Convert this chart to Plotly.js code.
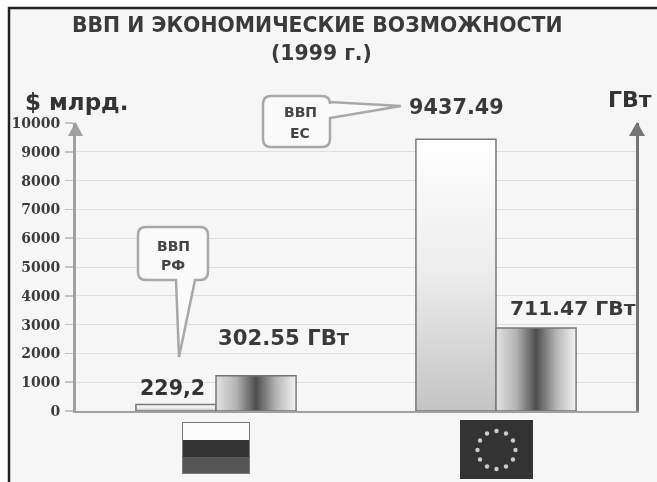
<!DOCTYPE html>
<html><head><meta charset="utf-8">
<script src="https://cdn.plot.ly/plotly-3.0.1.min.js"></script>
<style>html,body{margin:0;padding:0;background:#fff;overflow:hidden}#c{width:657px;height:482px;filter:blur(0.6px)}</style>
</head><body><div id="c"></div>
<script>
const categories = ['РФ', 'ЕС'];
const gdpValues = [229.2, 9437.49];
const powerValues = [302.55, 711.47];
const gdpLabels = ['229,2', '9437.49'];
const powerLabels = ['302.55 ГВт', '711.47 ГВт'];
const tickValues = [0,1000,2000,3000,4000,5000,6000,7000,8000,9000,10000];
const titleLines = ['ВВП И ЭКОНОМИЧЕСКИЕ ВОЗМОЖНОСТИ', '(1999 г.)'];

const W=657,H=482,L=76,R=636,T=123,B=411;
const px=x=>(x-L)/(R-L), py=y=>(B-y)/(B-T);
const pathOf=pts=>pts.map((p,i)=>(i?'L':'M')+px(p[0]).toFixed(5)+','+py(p[1]).toFixed(5)).join(' ')+' Z';
const paper={xref:'paper',yref:'paper'};
function note(text,x,y,size,color){
  return {...paper,x:px(x),y:py(y),text:'<b>'+text+'</b>',showarrow:false,xanchor:'center',yanchor:'middle',
    font:{size:size,family:'"DejaVu Sans"',color:color||'#3a3a3a'}};
}
function rrect(x0,y0,x1,y1,r,tail){
  const P=(x,y)=>px(x).toFixed(5)+','+py(y).toFixed(5);
  let d='M'+P(x0+r,y0)+' L'+P(x1-r,y0)+' Q'+P(x1,y0)+' '+P(x1,y0+r);
  if(tail.side==='right'){tail.pts.forEach(p=>d+=' L'+P(p[0],p[1]));}
  d+=' L'+P(x1,y1-r)+' Q'+P(x1,y1)+' '+P(x1-r,y1);
  if(tail.side==='bottom'){tail.pts.forEach(p=>d+=' L'+P(p[0],p[1]));}
  d+=' L'+P(x0+r,y1)+' Q'+P(x0,y1)+' '+P(x0,y1-r)+' L'+P(x0,y0+r)+' Q'+P(x0,y0)+' '+P(x0+r,y0)+' Z';
  return d;
}
const ruFlag='data:image/svg+xml,'+encodeURIComponent('<svg xmlns="http://www.w3.org/2000/svg" width="68" height="52"><rect width="68" height="18" fill="#fbfbfb"/><rect y="18" width="68" height="17" fill="#333"/><rect y="35" width="68" height="17" fill="#555"/><rect x=".5" y=".5" width="67" height="51" fill="none" stroke="#777"/></svg>');
let stars='';
for(let i=0;i<12;i++){const a=i*Math.PI/6;stars+=`<circle cx="${36.5+19*Math.sin(a)}" cy="${30-19*Math.cos(a)}" r="2.2" fill="#ccc"/>`;}
const euFlag='data:image/svg+xml,'+encodeURIComponent('<svg xmlns="http://www.w3.org/2000/svg" width="73" height="59"><rect width="73" height="59" fill="#333"/>'+stars+'</svg>');

const boxStyle={type:'path',...paper,layer:'above',fillcolor:'#fafafa',line:{color:'#a8a8a8',width:2.5}};
const data=[
 {type:'bar',name:'ВВП',x:categories,y:gdpValues,width:0.286,offset:-0.286,
  marker:{color:'#ddd',line:{color:'#777',width:1.5}},hoverinfo:'skip'},
 {type:'bar',name:'ГВт',x:categories,y:powerValues,yaxis:'y2',width:0.286,offset:0,
  marker:{color:'#999',line:{color:'#777',width:1.5}},hoverinfo:'skip'}
];
const layout={
 width:W,height:H,margin:{l:L,r:W-R,t:T,b:H-B,pad:0},showlegend:false,barmode:'overlay',
 paper_bgcolor:'#fff',plot_bgcolor:'rgba(0,0,0,0)',
 font:{family:'"DejaVu Sans"'},
 xaxis:{type:'category',range:[-0.5,1.5],showticklabels:false,ticks:'',showgrid:false,zeroline:false,
   showline:true,linecolor:'#a0a0a0',linewidth:2},
 yaxis:{range:[0,10000],tickvals:tickValues,ticktext:tickValues.map(String),ticks:'outside',ticklen:8,tickcolor:'#c4c4c4',
   tickwidth:1.5,ticklabelstandoff:2,gridcolor:'#dedede',gridwidth:1,zeroline:false,showline:true,linecolor:'#a0a0a0',linewidth:3,
   tickfont:{family:'"DejaVu Serif"',size:14,color:'#3c3c3c',weight:'bold'}},
 yaxis2:{overlaying:'y',side:'right',range:[0,2470],showgrid:false,zeroline:false,showticklabels:false,ticks:'',
   showline:true,linecolor:'#757575',linewidth:3},
 images:[
  {...paper,source:ruFlag,x:px(182),y:py(422),sizex:px(250)-px(182),sizey:py(422)-py(474),xanchor:'left',yanchor:'top',sizing:'stretch',layer:'above'},
  {...paper,source:euFlag,x:px(460),y:py(420),sizex:px(533)-px(460),sizey:py(420)-py(479),xanchor:'left',yanchor:'top',sizing:'stretch',layer:'above'}
 ],
 shapes:[
  {type:'rect',...paper,layer:'below',x0:px(9),x1:px(670),y0:py(8),y1:py(500),fillcolor:'#f6f6f6',line:{color:'#222',width:2.5}},
  {type:'path',...paper,layer:'above',path:pathOf([[68,136],[75.5,122],[83,136]]),fillcolor:'#a0a0a0',line:{width:0}},
  {type:'path',...paper,layer:'above',path:pathOf([[629,136],[637,122],[645,136]]),fillcolor:'#757575',line:{width:0}},
  {...boxStyle,path:rrect(263,96,330,147,8,{side:'right',pts:[[330,102],[401,106],[330,118]]})},
  {...boxStyle,path:rrect(138,227,208,280,8,{side:'bottom',pts:[[195,280],[179,357],[176,280]]})}
 ],
 annotations:[
  note(titleLines[0],317,25,20.4),
  note(titleLines[1],321,53,20.4),
  note('$ млрд.',76,102,23,'#333'),
  note('ГВт',630,99,22,'#333'),
  note('ВВП',300,112,14,'#444'),
  note('ЕС',300,133,14,'#444'),
  note('ВВП',173,246,14,'#444'),
  note('РФ',173,265,14,'#444'),
  note(gdpLabels[0],172.5,388,20.6,'#333'),
  note(powerLabels[0],284,337,21.2),
  note(gdpLabels[1],456,107,20.8),
  note(powerLabels[1],573,308,20.3)
 ]
};
Plotly.newPlot('c',data,layout,{staticPlot:true,displayModeBar:false}).then(gd=>{
  const svg=gd.querySelector('.main-svg');
  const NS='http://www.w3.org/2000/svg';
  const defs=document.createElementNS(NS,'defs');
  defs.innerHTML=`<linearGradient id="gV" x1="0" y1="0" x2="0" y2="1"><stop offset="0" stop-color="#ffffff"/><stop offset="0.5" stop-color="#ececec"/><stop offset="1" stop-color="#c4c4c4"/></linearGradient>
  <linearGradient id="gH" x1="0" y1="0" x2="1" y2="0"><stop offset="0" stop-color="#e2e2e2"/><stop offset="0.25" stop-color="#b4b4b4"/><stop offset="0.5" stop-color="#4e4e4e"/><stop offset="0.75" stop-color="#b4b4b4"/><stop offset="1" stop-color="#f4f4f4"/></linearGradient>`;
  svg.insertBefore(defs,svg.firstChild);
  gd.querySelectorAll('.barlayer .trace').forEach((tr,i)=>{
    tr.querySelectorAll('.point path').forEach(p=>{p.style.fill=i===0?'url(#gV)':'url(#gH)';});
  });
});
</script></body></html>
